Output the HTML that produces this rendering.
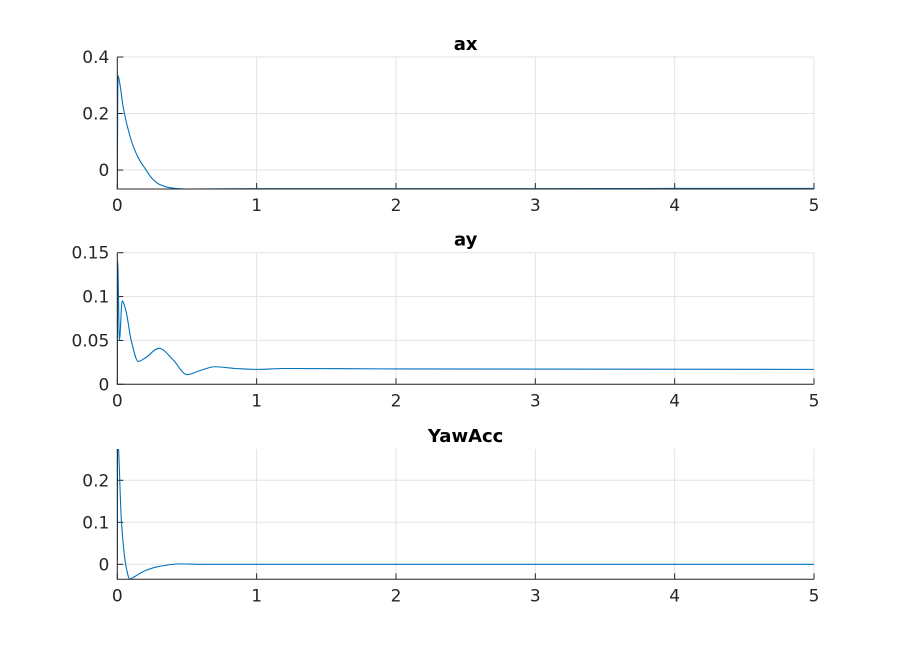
<!DOCTYPE html>
<html><head><meta charset="utf-8"><style>
body{margin:0;background:#fff}
svg{display:block;font-family:"DejaVu Sans","Liberation Sans",sans-serif}
</style></head><body>
<svg id="chart" width="900" height="652"></svg>
<script>
const xTicks=[0,1,2,3,4,5];
const axT=[0,0.005,0.02,0.04,0.06,0.08,0.1,0.13,0.16,0.2,0.25,0.3,0.4,0.5,1,2,3,4,5];
const axV=[-0.05,0.335,0.3,0.23,0.18,0.14,0.105,0.065,0.035,0.005,-0.03,-0.05,-0.064,-0.067,-0.066,-0.066,-0.066,-0.065,-0.065];
const ayT=[0,0.003,0.015,0.035,0.06,0.1,0.15,0.2,0.3,0.4,0.5,0.6,0.7,0.85,1,1.2,2,5];
const ayV=[0.005,0.14,0.05,0.095,0.085,0.05,0.026,0.03,0.041,0.028,0.011,0.016,0.02,0.018,0.017,0.018,0.0175,0.017];
const yawT=[0,0.002,0.03,0.06,0.09,0.12,0.2,0.3,0.45,0.6,1,5];
const yawV=[0.01,0.3,0.1,0.0,-0.035,-0.03,-0.015,-0.005,0.001,0,0,0];
const axTicks=[0,0.2,0.4], ayTicks=[0,0.05,0.1,0.15], yawTicks=[0,0.1,0.2];
const axLab=["0","0.2","0.4"], ayLab=["0","0.05","0.1","0.15"], yawLab=["0","0.1","0.2"];

const NS="http://www.w3.org/2000/svg";
const svg=document.getElementById('chart');
function mk(tag,attrs,parent){const e=document.createElementNS(NS,tag);for(const k in attrs)e.setAttribute(k,attrs[k]);(parent||svg).appendChild(e);return e;}
function monotonePath(xs,ys){
  const n=xs.length,d=[],m=new Array(n).fill(0);
  for(let i=0;i<n-1;i++)d.push((ys[i+1]-ys[i])/(xs[i+1]-xs[i]));
  m[0]=d[0];m[n-1]=d[n-2];
  for(let i=1;i<n-1;i++){ if(d[i-1]*d[i]<=0)m[i]=0; else {const h0=xs[i]-xs[i-1],h1=xs[i+1]-xs[i];m[i]=3*(h0+h1)/((2*h1+h0)/d[i-1]+(h1+2*h0)/d[i]);} }
  let s=`M${xs[0]},${ys[0]}`;
  for(let i=0;i<n-1;i++){const h=(xs[i+1]-xs[i])/3;s+=`C${xs[i]+h},${ys[i]+m[i]*h} ${xs[i+1]-h},${ys[i+1]-m[i+1]*h} ${xs[i+1]},${ys[i+1]}`;}
  return s;
}
const X0=117.3,X1=814;
function panel(id,title,top,bot,ymin,ymax,ticks,labs,T,V){
  const g=mk('g',{});
  
  
  const sx=v=>X0+(v-0)/(5-0)*(X1-X0);
  const sy=v=>bot-(v-ymin)/(ymax-ymin)*(bot-top);
  xTicks.forEach(t=>{
    const l=mk('line',{x1:sx(t),x2:sx(t),y1:top,y2:bot,stroke:'#e3e3e3','stroke-width':1},g);
    
    
    const tk=mk('line',{x1:sx(t),x2:sx(t),y1:bot,y2:bot-6,stroke:'#262626','stroke-width':1},g);
    
    
    const tx=mk('text',{x:sx(t),y:bot+22,'text-anchor':'middle','font-size':17,fill:'#262626'},g);
    tx.textContent=t;
    
    
  });
  ticks.forEach((t,i)=>{
    const l=mk('line',{x1:X0,x2:X1,y1:sy(t),y2:sy(t),stroke:'#e3e3e3','stroke-width':1},g);
    
    
    const tk=mk('line',{x1:X0,x2:X0+6,y1:sy(t),y2:sy(t),stroke:'#262626','stroke-width':1},g);
    
    
    const tx=mk('text',{x:X0-8,y:sy(t)+6,'text-anchor':'end','font-size':17,fill:'#262626'},g);
    tx.textContent=labs[i];
    
    
  });
  const cp=mk('clipPath',{id:'c'+id},g);
  mk('rect',{x:X0,y:top,width:X1-X0,height:bot-top},cp);
  const p=mk('path',{d:monotonePath(T.map(sx),V.map(sy)),fill:'none',stroke:'#0072BD','stroke-width':1.1,'stroke-linejoin':'round','clip-path':'url(#c'+id+')'},g);
  
  
  const a=mk('path',{d:`M${X0},${top}V${bot}H${X1}`,fill:'none',stroke:'#262626','stroke-width':1},g);
  
  
  const tt=mk('text',{x:(X0+X1)/2,y:top-7,'text-anchor':'middle','font-size':18,'font-weight':'bold',fill:'#000'},g);
  tt.textContent=title;
  
  
}
panel('ax','ax',57,189,-0.067,0.4,axTicks,axLab,axT,axV);
panel('ay','ay',252.7,384.3,0,0.15,ayTicks,ayLab,ayT,ayV);
panel('yaw','YawAcc',449,579.3,-0.0357,0.2745,yawTicks,yawLab,yawT,yawV);
</script>
</body></html>
